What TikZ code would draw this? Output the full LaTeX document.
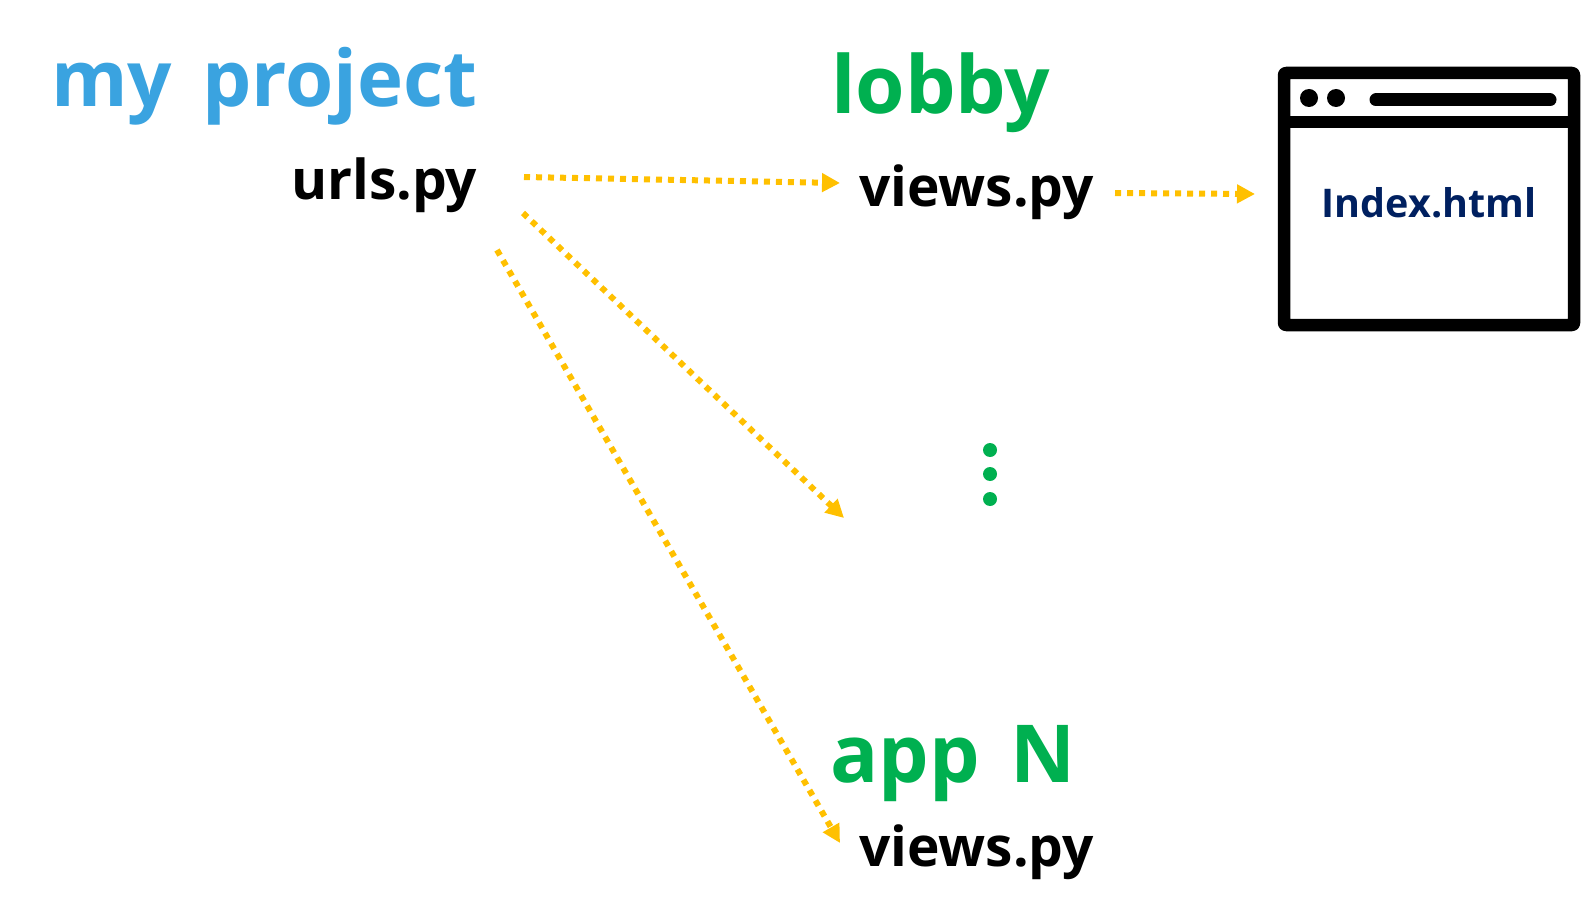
\documentclass[tikz,border=0pt]{standalone}
\usepackage{fontspec}
\setmainfont{Open Sans}
\usetikzlibrary{arrows.meta}
\definecolor{projblue}{RGB}{58,163,224}
\definecolor{appgreen}{RGB}{0,176,80}
\definecolor{flowgold}{RGB}{255,192,0}
\definecolor{pagenavy}{RGB}{0,32,96}
\tikzset{
  title/.style={anchor=base west,inner sep=0pt,font=\fontsize{80}{80}\selectfont\bfseries},
  file/.style={anchor=base west,inner sep=0pt,text=black,font=\fontsize{55}{55}\selectfont\bfseries},
  flow/.style={draw=flowgold,line width=6pt,dash pattern=on 6pt off 6pt,-{Triangle[length=18pt,width=18pt,fill=flowgold]}},
  frame/.style={draw=black,line width=12.5pt,line join=round},
  greendot/.style={circle,fill=appgreen,inner sep=0pt,minimum size=14pt}
}
\begin{document}
\begin{tikzpicture}[x=1pt,y=-1pt]
\useasboundingbox (0,0) rectangle (1586,912);
\node [title,text=projblue,font=\fontsize{78}{78}\selectfont\bfseries] (project) at (51,107) {my\hspace{10pt} project};
\node [file] (urls) at (291,200) {urls.py};
\node [title,text=appgreen] (lobby) at (831,114) {lobby};
\node [file] (views) at (859,207) {views.py};
\node [title,text=appgreen] (appn) at (830,782) {app\hspace{10pt} N};
\node [file] (viewsn) at (859,866) {views.py};

\coordinate (0) at (524,177);
\coordinate (1) at (840,183);
\coordinate (2) at (523,213);
\coordinate (3) at (844,518);
\coordinate (4) at (497,250);
\coordinate (5) at (840,843);
\coordinate (6) at (1115,193);
\coordinate (7) at (1255,194);
\draw [flow] (0) to (1);
\draw [flow] (2) to (3);
\draw [flow] (4) to (5);
\draw [flow] (6) to (7);

\node [greendot] (dot0) at (990,450) {};
\node [greendot] (dot1) at (990,474) {};
\node [greendot] (dot2) at (990,499) {};

% browser window
\draw [frame,rounded corners=2pt] (1284,73) rectangle (1574,325);
\draw [frame] (1278,122) -- (1580,122);
\draw [fill=black,draw=none] (1309,98) circle (9);
\draw [fill=black,draw=none] (1336,98) circle (9);
\draw [black,line width=13pt,line cap=round] (1376,100) -- (1550,100);
\node [inner sep=0pt,anchor=base,text=pagenavy,font=\fontsize{39.5}{40}\selectfont\bfseries] (index) at (1429,217) {Index.html};
\end{tikzpicture}
\end{document}
